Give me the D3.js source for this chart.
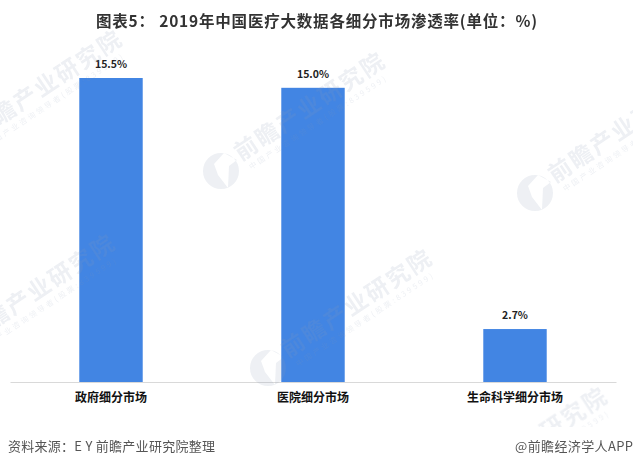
<!doctype html>
<html>
<head>
  <meta charset="utf-8">
  <style>
    html, body { margin:0; padding:0; background:#fff; }
    svg { display:block; }
    text { font-family:"Noto Sans CJK SC", "Liberation Sans", sans-serif; }
  </style>
  <script src="https://d3js.org/d3.v7.min.js"></script>
</head>
<body>
  <script type="text/javascript">
    var categories = ["政府细分市场", "医院细分市场", "生命科学细分市场"];
    var values = [15.5, 15.0, 2.7];
    var valueLabels = ["15.5%", "15.0%", "2.7%"];

    var svg = d3.select("body").append("svg")
      .attr("width", 633)
      .attr("height", 467);

    var x = d3.scaleBand()
      .domain(categories)
      .range([10, 616])
      .paddingInner(0.686)
      .paddingOuter(0.343);

    var y = d3.scaleLinear()
      .domain([0, 15.5])
      .range([382, 78]);

    // bars
    svg.selectAll("rect.bar")
      .data(values)
      .enter().append("rect")
        .attr("class", "bar")
        .attr("x", function(d, i) { return x(categories[i]); })
        .attr("y", function(d) { return y(d); })
        .attr("width", x.bandwidth())
        .attr("height", function(d) { return y(0) - y(d); })
        .attr("fill", "#4285e3");

    // value labels
    svg.selectAll("text.val")
      .data(values)
      .enter().append("text")
        .attr("class", "val")
        .attr("x", function(d, i) { return x(categories[i]) + x.bandwidth() / 2; })
        .attr("y", function(d) { return y(d) - 10; })
        .attr("text-anchor", "middle")
        .style("font-size", "10.5px")
        .style("font-weight", "bold")
        .attr("fill", "#222")
        .text(function(d, i) { return valueLabels[i]; });

    // axis
    var axis = svg.append("g")
      .attr("transform", "translate(0,382)")
      .call(d3.axisBottom(x).tickSize(0).tickPadding(11));
    axis.select(".domain").attr("stroke", "#d9d9d9").attr("stroke-width", 1.2);
    axis.selectAll("text")
      .style("font-size", "12px")
      .style("font-weight", "bold")
      .style("font-family", '"Noto Sans CJK SC", sans-serif')
      .attr("fill", "#111");

    // watermarks, faint and on top of the bars
    var marks = [[221, 171], [535, 193], [268, 368], [-42, 149], [-49, 353], [443, 506]];
    var wm = svg.append("g").attr("fill", "#8a9ab5").attr("opacity", 0.15);
    marks.forEach(function(m) {
      var g = wm.append("g").attr("transform", "translate(" + m[0] + "," + m[1] + ")");
      g.append("path")
        .attr("fill-rule", "evenodd")
        .attr("d", "M-18,0A18,18 0 1,1 18,0A18,18 0 1,1 -18,0Z"
          + "M-7,-7L3,-18L16,-11L8,-5L7,17L-3,4Z");
      var t = g.append("g").attr("transform", "rotate(-33.4)");
      t.append("text").attr("x", 22).attr("y", 3)
        .attr("textLength", 174)
        .style("font-size", "23px").style("font-weight", "bold")
        .text("前瞻产业研究院");
      t.append("text").attr("x", 26).attr("y", 15.5)
        .attr("textLength", 162)
        .style("font-size", "7.5px")
        .text("中国产业咨询领导者(股票:839599)");
    });

    // title and source
    svg.append("rect").attr("y", 427).attr("width", 633).attr("height", 40).attr("fill", "#fff");

    svg.append("text")
      .attr("x", 96).attr("y", 27)
      .attr("textLength", 441)
      .style("font-size", "15.5px")
      .style("font-weight", "bold")
      .attr("fill", "#333")
      .text("图表5： 2019年中国医疗大数据各细分市场渗透率(单位：%)");

    svg.append("text")
      .attr("x", 8).attr("y", 451)
      .attr("textLength", 207)
      .style("font-size", "13px")
      .attr("fill", "#555")
      .text("资料来源：E Y 前瞻产业研究院整理");

    svg.append("text")
      .attr("x", 515).attr("y", 451)
      .attr("textLength", 118)
      .style("font-size", "13px")
      .attr("fill", "#555")
      .text("@前瞻经济学人APP");
  </script>
</body>
</html>
